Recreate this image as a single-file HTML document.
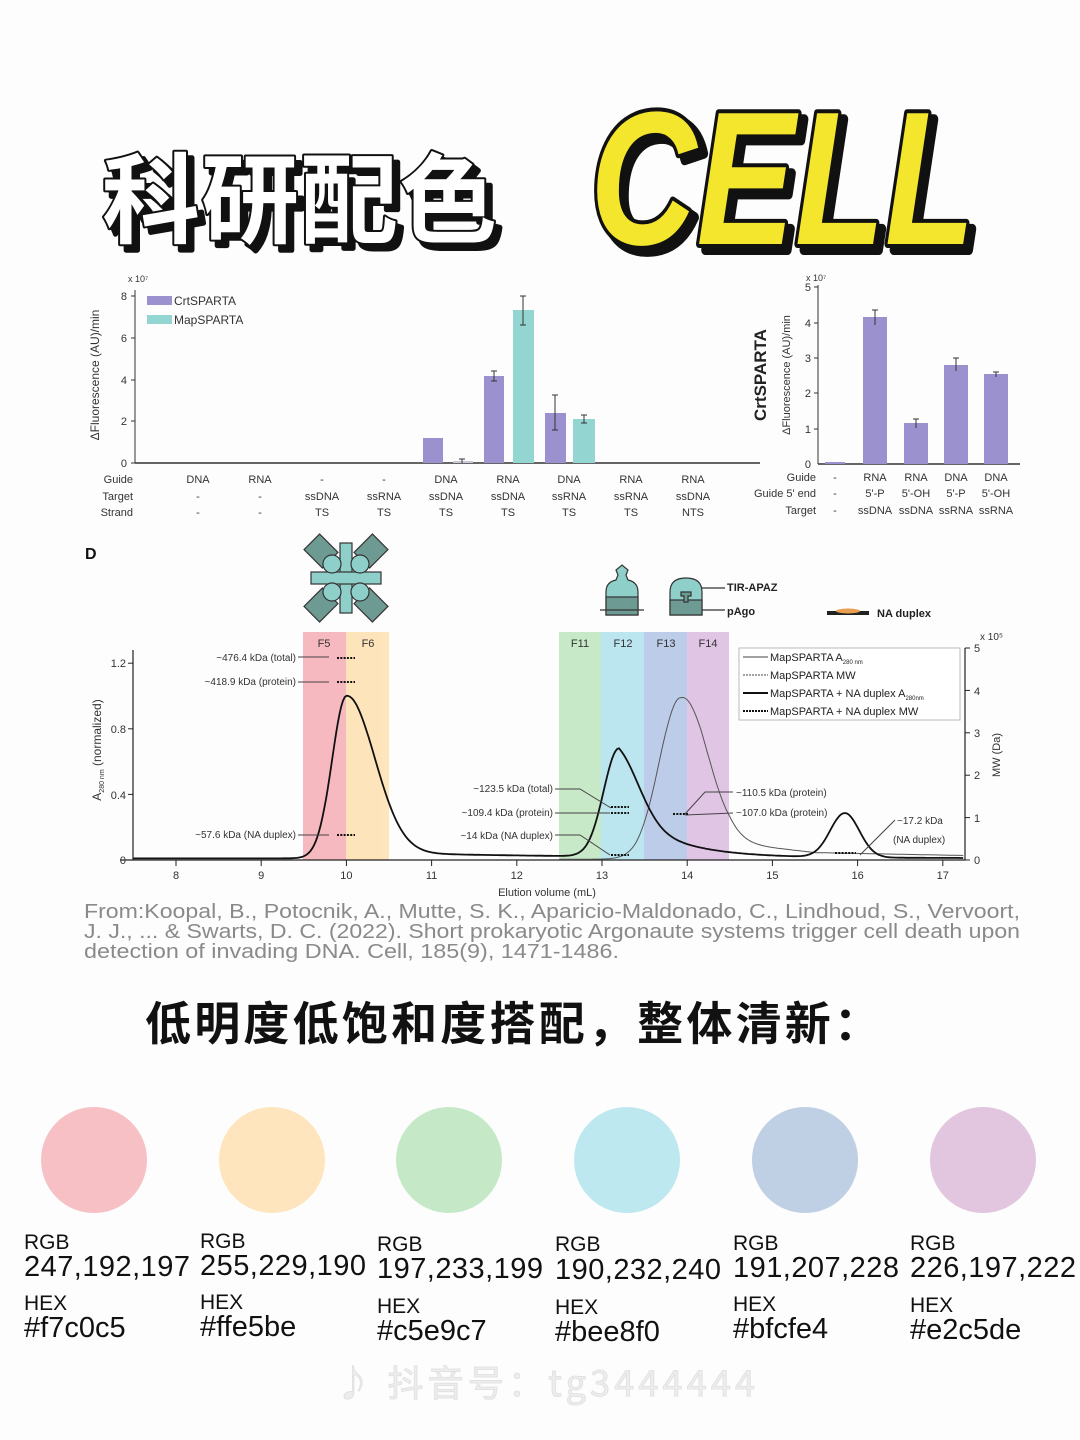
<!DOCTYPE html>
<html><head><meta charset="utf-8">
<style>
html,body{margin:0;padding:0;background:#fdfdfd;}
svg{display:block;font-family:"Liberation Sans","Noto Sans CJK SC",sans-serif;}
</style></head>
<body>
<svg id="s" width="1080" height="1440" viewBox="0 0 1080 1440" xmlns="http://www.w3.org/2000/svg">
<rect width="1080" height="1440" fill="#fdfdfd"/>
<!-- Title -->
<g font-family="'Noto Sans CJK SC','WenQuanYi Zen Hei',sans-serif" font-weight="bold" font-size="98">
<text x="108" y="241" textLength="395" fill="#111" stroke="#111" stroke-width="5" stroke-linejoin="round">科研配色</text>
<text x="102" y="235" textLength="395" fill="#fff" stroke="#111" stroke-width="4" stroke-linejoin="round" paint-order="stroke">科研配色</text>
</g>
<g font-family="'Liberation Sans',sans-serif" font-weight="bold" font-style="italic" font-size="190">
<text x="596" y="250" textLength="385" lengthAdjust="spacingAndGlyphs" fill="#111" stroke="#111" stroke-width="10" stroke-linejoin="round">CELL</text>
<text x="590" y="244" textLength="385" lengthAdjust="spacingAndGlyphs" fill="#f4e62c" stroke="#111" stroke-width="8" stroke-linejoin="round" paint-order="stroke">CELL</text>
</g>

<!-- Bar chart 1 -->
<g font-size="11" fill="#333">
<text x="128" y="282" font-size="9">x 10⁷</text>
<line x1="135" y1="290" x2="135" y2="463" stroke="#333"/>
<line x1="135" y1="463" x2="760" y2="463" stroke="#333" stroke-width="1.5"/>
<g text-anchor="end">
<text x="127" y="467">0</text><text x="127" y="425">2</text><text x="127" y="384">4</text><text x="127" y="342">6</text><text x="127" y="300">8</text>
</g>
<g stroke="#333"><line x1="131" y1="463" x2="135" y2="463"/><line x1="131" y1="421" x2="135" y2="421"/><line x1="131" y1="380" x2="135" y2="380"/><line x1="131" y1="338" x2="135" y2="338"/><line x1="131" y1="296" x2="135" y2="296"/></g>
<text transform="translate(99,375) rotate(-90)" text-anchor="middle" font-size="12">ΔFluorescence (AU)/min</text>
<rect x="147" y="296" width="25" height="9" fill="#9b91cf"/><text x="174" y="305" font-size="12">CrtSPARTA</text>
<rect x="147" y="315" width="25" height="9" fill="#92d5d1"/><text x="174" y="324" font-size="12">MapSPARTA</text>
<rect x="423" y="438" width="20" height="25" fill="#9b91cf"/>
<rect x="453" y="461" width="20" height="2" fill="#c8c8d8"/>
<rect x="484" y="376" width="20" height="87" fill="#9b91cf"/>
<rect x="513" y="310" width="21" height="153" fill="#92d5d1"/>
<rect x="545" y="413" width="21" height="50" fill="#9b91cf"/>
<rect x="573" y="419" width="22" height="44" fill="#92d5d1"/>
<g stroke="#333" stroke-width="1">
<line x1="494" y1="371" x2="494" y2="381"/><line x1="491" y1="371" x2="497" y2="371"/><line x1="491" y1="381" x2="497" y2="381"/>
<line x1="523" y1="296" x2="523" y2="325"/><line x1="520" y1="296" x2="526" y2="296"/><line x1="520" y1="325" x2="526" y2="325"/>
<line x1="555" y1="395" x2="555" y2="430"/><line x1="552" y1="395" x2="558" y2="395"/><line x1="552" y1="430" x2="558" y2="430"/>
<line x1="584" y1="415" x2="584" y2="423"/><line x1="581" y1="415" x2="587" y2="415"/><line x1="581" y1="423" x2="587" y2="423"/>
<line x1="462" y1="459" x2="462" y2="463"/><line x1="459" y1="459" x2="465" y2="459"/>
</g>
<g text-anchor="end"><text x="133" y="483">Guide</text><text x="133" y="500">Target</text><text x="133" y="516">Strand</text></g>
<g text-anchor="middle">
<text x="198" y="483">DNA</text><text x="260" y="483">RNA</text><text x="322" y="483">-</text><text x="384" y="483">-</text><text x="446" y="483">DNA</text><text x="508" y="483">RNA</text><text x="569" y="483">DNA</text><text x="631" y="483">RNA</text><text x="693" y="483">RNA</text>
<text x="198" y="500">-</text><text x="260" y="500">-</text><text x="322" y="500">ssDNA</text><text x="384" y="500">ssRNA</text><text x="446" y="500">ssDNA</text><text x="508" y="500">ssDNA</text><text x="569" y="500">ssRNA</text><text x="631" y="500">ssRNA</text><text x="693" y="500">ssDNA</text>
<text x="198" y="516">-</text><text x="260" y="516">-</text><text x="322" y="516">TS</text><text x="384" y="516">TS</text><text x="446" y="516">TS</text><text x="508" y="516">TS</text><text x="569" y="516">TS</text><text x="631" y="516">TS</text><text x="693" y="516">NTS</text>
</g>
</g>

<!-- Bar chart 2 -->
<g font-size="11" fill="#333">
<text x="806" y="281" font-size="9">x 10⁷</text>
<line x1="818" y1="285" x2="818" y2="464" stroke="#333"/>
<line x1="818" y1="464" x2="1020" y2="464" stroke="#333" stroke-width="1.5"/>
<g text-anchor="end"><text x="811" y="468">0</text><text x="811" y="433">1</text><text x="811" y="397">2</text><text x="811" y="362">3</text><text x="811" y="327">4</text><text x="811" y="291">5</text></g>
<g stroke="#333"><line x1="814" y1="429" x2="818" y2="429"/><line x1="814" y1="393" x2="818" y2="393"/><line x1="814" y1="358" x2="818" y2="358"/><line x1="814" y1="323" x2="818" y2="323"/><line x1="814" y1="287" x2="818" y2="287"/></g>
<text transform="translate(766,375) rotate(-90)" text-anchor="middle" font-size="17" font-weight="bold" fill="#222">CrtSPARTA</text>
<text transform="translate(790,375) rotate(-90)" text-anchor="middle" font-size="11">ΔFluorescence (AU)/min</text>
<rect x="825" y="462" width="20" height="2" fill="#9b91cf"/>
<rect x="863" y="317" width="24" height="147" fill="#9b91cf"/>
<rect x="904" y="423" width="24" height="41" fill="#9b91cf"/>
<rect x="944" y="365" width="24" height="99" fill="#9b91cf"/>
<rect x="984" y="374" width="24" height="90" fill="#9b91cf"/>
<g stroke="#333"><line x1="875" y1="310" x2="875" y2="325"/><line x1="872" y1="310" x2="878" y2="310"/><line x1="916" y1="419" x2="916" y2="428"/><line x1="913" y1="419" x2="919" y2="419"/><line x1="956" y1="358" x2="956" y2="371"/><line x1="953" y1="358" x2="959" y2="358"/><line x1="996" y1="372" x2="996" y2="377"/><line x1="993" y1="372" x2="999" y2="372"/></g>
<g text-anchor="end"><text x="816" y="481">Guide</text><text x="816" y="497">Guide 5' end</text><text x="816" y="514">Target</text></g>
<g text-anchor="middle">
<text x="835" y="481">-</text><text x="875" y="481">RNA</text><text x="916" y="481">RNA</text><text x="956" y="481">DNA</text><text x="996" y="481">DNA</text>
<text x="835" y="497">-</text><text x="875" y="497">5'-P</text><text x="916" y="497">5'-OH</text><text x="956" y="497">5'-P</text><text x="996" y="497">5'-OH</text>
<text x="835" y="514">-</text><text x="875" y="514">ssDNA</text><text x="916" y="514">ssDNA</text><text x="956" y="514">ssRNA</text><text x="996" y="514">ssRNA</text>
</g>
</g>

<!-- Chart D -->
<text x="85" y="559" font-size="16" font-weight="bold" fill="#111">D</text>
<g stroke="#333" stroke-width="1.2">
<g transform="translate(346,578)">
<rect x="-6" y="-35" width="12" height="70" fill="#8fcfca"/><rect x="-35" y="-6" width="70" height="12" fill="#8fcfca"/>
<rect x="-38" y="-38" width="26" height="22" fill="#6e9a94" transform="rotate(45,-25,-27)"/>
<rect x="12" y="-38" width="26" height="22" fill="#6e9a94" transform="rotate(-45,25,-27)"/>
<rect x="-38" y="16" width="26" height="22" fill="#6e9a94" transform="rotate(-45,-25,27)"/>
<rect x="12" y="16" width="26" height="22" fill="#6e9a94" transform="rotate(45,25,27)"/>
<circle cx="-14" cy="-14" r="9" fill="#8fcfca"/><circle cx="14" cy="-14" r="9" fill="#8fcfca"/><circle cx="-14" cy="14" r="9" fill="#8fcfca"/><circle cx="14" cy="14" r="9" fill="#8fcfca"/>
</g>
<path d="M606,615 L606,592 Q606,582 616,580 L618,575 L616,570 L622,565 L628,570 L626,575 L628,580 Q638,582 638,592 L638,615 Z" fill="#8fcfca"/>
<rect x="606" y="597" width="32" height="18" fill="#6e9a94"/>
<line x1="600" y1="610" x2="644" y2="610"/>
<path d="M670,615 L670,592 Q670,578 686,578 Q702,578 702,592 L702,615 Z" fill="#8fcfca"/>
<rect x="670" y="600" width="32" height="15" fill="#6e9a94"/>
<path d="M681,592 h10 v4 h-3 v6 h-4 v-6 h-3 z" fill="#6e9a94"/>
<line x1="702" y1="588" x2="725" y2="588"/><line x1="702" y1="610" x2="725" y2="610"/>
</g>
<text x="727" y="591" font-size="11" font-weight="bold" fill="#222">TIR-APAZ</text>
<text x="727" y="615" font-size="11" font-weight="bold" fill="#222">pAgo</text>
<rect x="827" y="611" width="42" height="4" fill="#222"/><ellipse cx="848" cy="611" rx="12" ry="2.5" fill="#e8a050"/>
<text x="877" y="617" font-size="11" font-weight="bold" fill="#222">NA duplex</text>
<g opacity="0.85">
<rect x="303" y="632" width="43" height="228" fill="#f7aeb6"/>
<rect x="346" y="632" width="43" height="228" fill="#ffe0b0"/>
<rect x="559" y="632" width="42" height="228" fill="#bfe6bf"/>
<rect x="601" y="632" width="43" height="228" fill="#b0e2ee"/>
<rect x="644" y="632" width="43" height="228" fill="#b3c5e6"/>
<rect x="687" y="632" width="42" height="228" fill="#dcbce0"/>
</g>
<g font-size="11" fill="#333" text-anchor="middle">
<text x="324" y="647">F5</text><text x="368" y="647">F6</text><text x="580" y="647">F11</text><text x="623" y="647">F12</text><text x="666" y="647">F13</text><text x="708" y="647">F14</text>
</g>
<g stroke="#222" stroke-width="1.2">
<line x1="133" y1="650" x2="133" y2="860"/>
<line x1="120" y1="860" x2="965" y2="860"/>
<line x1="965" y1="648" x2="965" y2="860"/>
</g>
<g id="ticks" stroke="#222"></g>
<g font-size="11" fill="#333" text-anchor="end">
<text x="126" y="864">0</text><text x="126" y="799">0.4</text><text x="126" y="733">0.8</text><text x="126" y="667">1.2</text>
</g>
<g font-size="11" fill="#333">
<text x="974" y="864">0</text><text x="974" y="822">1</text><text x="974" y="779">2</text><text x="974" y="737">3</text><text x="974" y="695">4</text><text x="974" y="652">5</text>
<text x="980" y="640" font-size="10">x 10⁵</text>
</g>
<g id="xl" font-size="11" fill="#333" text-anchor="middle"></g>
<text x="547" y="896" font-size="11" fill="#333" text-anchor="middle">Elution volume (mL)</text>
<text transform="translate(101,750) rotate(-90)" font-size="12" fill="#333" text-anchor="middle">A<tspan font-size="7" dy="3">280 nm</tspan><tspan dy="-3"> (normalized)</tspan></text>
<text transform="translate(1000,755) rotate(-90)" font-size="11" fill="#333" text-anchor="middle">MW (Da)</text>
<path id="thin" fill="none" stroke="#555" stroke-width="1"/>
<path id="thick" fill="none" stroke="#111" stroke-width="1.8"/>
<g font-size="10" fill="#333">
<text x="296" y="661" text-anchor="end">~476.4 kDa (total)</text>
<text x="296" y="685" text-anchor="end">~418.9 kDa (protein)</text>
<text x="296" y="838" text-anchor="end">~57.6 kDa (NA duplex)</text>
<text x="553" y="792" text-anchor="end">~123.5 kDa (total)</text>
<text x="553" y="816" text-anchor="end">~109.4 kDa (protein)</text>
<text x="553" y="839" text-anchor="end">~14 kDa (NA duplex)</text>
<text x="736" y="796">~110.5 kDa (protein)</text>
<text x="736" y="816">~107.0 kDa (protein)</text>
<text x="897" y="824">~17.2 kDa</text>
<text x="893" y="843">(NA duplex)</text>
</g>
<g stroke="#444" stroke-width="1" fill="none">
<line x1="298" y1="657" x2="329" y2="657"/><line x1="298" y1="682" x2="329" y2="682"/><line x1="298" y1="835" x2="329" y2="835"/>
<path d="M555,789 L580,789 L611,808"/><line x1="555" y1="813" x2="610" y2="813"/><path d="M555,835 L580,835 L610,855"/>
<path d="M733,792 L705,792 L685,814"/><line x1="733" y1="813" x2="685" y2="815"/><line x1="895" y1="820" x2="860" y2="855"/>
</g>
<g stroke="#111" stroke-width="2" stroke-dasharray="2,1.3">
<line x1="337" y1="658" x2="355" y2="658"/><line x1="337" y1="682" x2="355" y2="682"/><line x1="337" y1="835" x2="355" y2="835"/>
<line x1="611" y1="807" x2="629" y2="807"/><line x1="611" y1="813" x2="629" y2="813"/><line x1="611" y1="855" x2="629" y2="855"/>
<line x1="673" y1="814" x2="688" y2="814"/><line x1="835" y1="853" x2="856" y2="853"/>
</g>
<rect x="739" y="648" width="221" height="72" fill="#fff" stroke="#bbb"/>
<g font-size="11" fill="#222">
<line x1="743" y1="657" x2="768" y2="657" stroke="#444"/><text x="770" y="661">MapSPARTA A<tspan font-size="6" dy="3">280 nm</tspan></text>
<line x1="743" y1="675" x2="768" y2="675" stroke="#444" stroke-dasharray="2,1"/><text x="770" y="679">MapSPARTA MW</text>
<line x1="743" y1="693" x2="768" y2="693" stroke="#111" stroke-width="2"/><text x="770" y="697">MapSPARTA + NA duplex A<tspan font-size="6" dy="3">280nm</tspan></text>
<line x1="743" y1="711" x2="768" y2="711" stroke="#111" stroke-width="2" stroke-dasharray="2,1"/><text x="770" y="715">MapSPARTA + NA duplex MW</text>
</g>
<g font-size="20" fill="#8a8a8a">
<text x="84" y="918" textLength="936" lengthAdjust="spacingAndGlyphs">From:Koopal, B., Potocnik, A., Mutte, S. K., Aparicio-Maldonado, C., Lindhoud, S., Vervoort,</text>
<text x="84" y="938" textLength="936" lengthAdjust="spacingAndGlyphs">J. J., ... &amp; Swarts, D. C. (2022). Short prokaryotic Argonaute systems trigger cell death upon</text>
<text x="84" y="958" textLength="535" lengthAdjust="spacingAndGlyphs">detection of invading DNA. Cell, 185(9), 1471-1486.</text>
</g>
<text x="145" y="1040" font-size="46" font-weight="bold" fill="#111" textLength="735" font-family="'Noto Sans CJK SC',sans-serif">低明度低饱和度搭配，整体清新：</text>
<circle cx="94" cy="1160" r="53" fill="#f7c0c5"/>
<circle cx="272" cy="1160" r="53" fill="#ffe5be"/>
<circle cx="449" cy="1160" r="53" fill="#c5e9c7"/>
<circle cx="627" cy="1160" r="53" fill="#bee8f0"/>
<circle cx="805" cy="1160" r="53" fill="#bfcfe4"/>
<circle cx="983" cy="1160" r="53" fill="#e2c5de"/>
<g fill="#111">
<g font-size="21"><text x="24" y="1249">RGB</text><text x="200" y="1248">RGB</text><text x="377" y="1251">RGB</text><text x="555" y="1251">RGB</text><text x="733" y="1250">RGB</text><text x="910" y="1250">RGB</text>
<text x="24" y="1310">HEX</text><text x="200" y="1309">HEX</text><text x="377" y="1313">HEX</text><text x="555" y="1314">HEX</text><text x="733" y="1311">HEX</text><text x="910" y="1312">HEX</text></g>
<g font-size="29"><text x="24" y="1276" textLength="166">247,192,197</text><text x="200" y="1275" textLength="166">255,229,190</text><text x="377" y="1278" textLength="166">197,233,199</text><text x="555" y="1279" textLength="166">190,232,240</text><text x="733" y="1277" textLength="166">191,207,228</text><text x="910" y="1277" textLength="166">226,197,222</text>
<text x="24" y="1337">#f7c0c5</text><text x="200" y="1336">#ffe5be</text><text x="377" y="1340">#c5e9c7</text><text x="555" y="1341">#bee8f0</text><text x="733" y="1338">#bfcfe4</text><text x="910" y="1339">#e2c5de</text></g>
</g>
<text x="335" y="1396" font-size="36" fill="#ededed" stroke="#e2e2e2" stroke-width="1" font-family="'Noto Sans CJK SC',sans-serif" textLength="420">♪ 抖音号：tg3444444</text>
</svg>
<script>
function X(v){return 176+(v-8)*85.2;}
function Y(a){return 860-a*164;}
function g(v,m,sl,sr){var s=v<m?sl:sr;return Math.exp(-(v-m)*(v-m)/(2*s*s));}
function thick(v){
 var a=0.96*g(v,10,0.17,0.33);
 var t=(1/(1+Math.exp(-(v-9.9)/0.08)))*0.04*Math.exp(-(v-10)/2.5);
 var p2;
 if(v<13.2)p2=0.66*g(v,13.2,0.18,1);else{var d=v-13.2;p2=0.33*Math.exp(-d*d/(2*0.0625))+0.33*Math.exp(-d/0.55);}
 var p3=0.27*g(v,15.85,0.17,0.17);
 return a+t+p2+p3+0.01;
}
function thin(v){
 var a=0.97*g(v,13.93,0.25,0.3);
 var b=0;
 if(v>13.4){ if(v<14.5)b=0.1*(v-13.4)/1.1*Math.min(1,Math.abs(v-13.93)*3+0.3); else if(v<15.5)b=0.1-0.06*(v-14.5); else b=0.04-0.01*(v-15.5);}
 return a+b+0.005;
}
function path(f,a,b){var d="";for(var v=a;v<=b+1e-9;v+=0.02){d+=(d?"L":"M")+X(v).toFixed(1)+","+Y(Math.max(0,f(v))).toFixed(1);}return d;}
document.getElementById("thick").setAttribute("d",path(thick,7.5,17.25));
document.getElementById("thin").setAttribute("d",path(thin,12.5,17.25));
var NS="http://www.w3.org/2000/svg",tk=document.getElementById("ticks"),xl=document.getElementById("xl");
for(var i=8;i<=17;i++){var l=document.createElementNS(NS,"line");l.setAttribute("x1",X(i));l.setAttribute("x2",X(i));l.setAttribute("y1",860);l.setAttribute("y2",866);tk.appendChild(l);
 var t=document.createElementNS(NS,"text");t.setAttribute("x",X(i));t.setAttribute("y",879);t.textContent=i;xl.appendChild(t);}
[0,0.4,0.8,1.2].forEach(function(a){var l=document.createElementNS(NS,"line");l.setAttribute("x1",128);l.setAttribute("x2",133);l.setAttribute("y1",Y(a));l.setAttribute("y2",Y(a));tk.appendChild(l);});
for(var k=0;k<=5;k++){var l=document.createElementNS(NS,"line");l.setAttribute("x1",965);l.setAttribute("x2",970);l.setAttribute("y1",860-k*42.4);l.setAttribute("y2",860-k*42.4);tk.appendChild(l);}
</script>
</body></html>
